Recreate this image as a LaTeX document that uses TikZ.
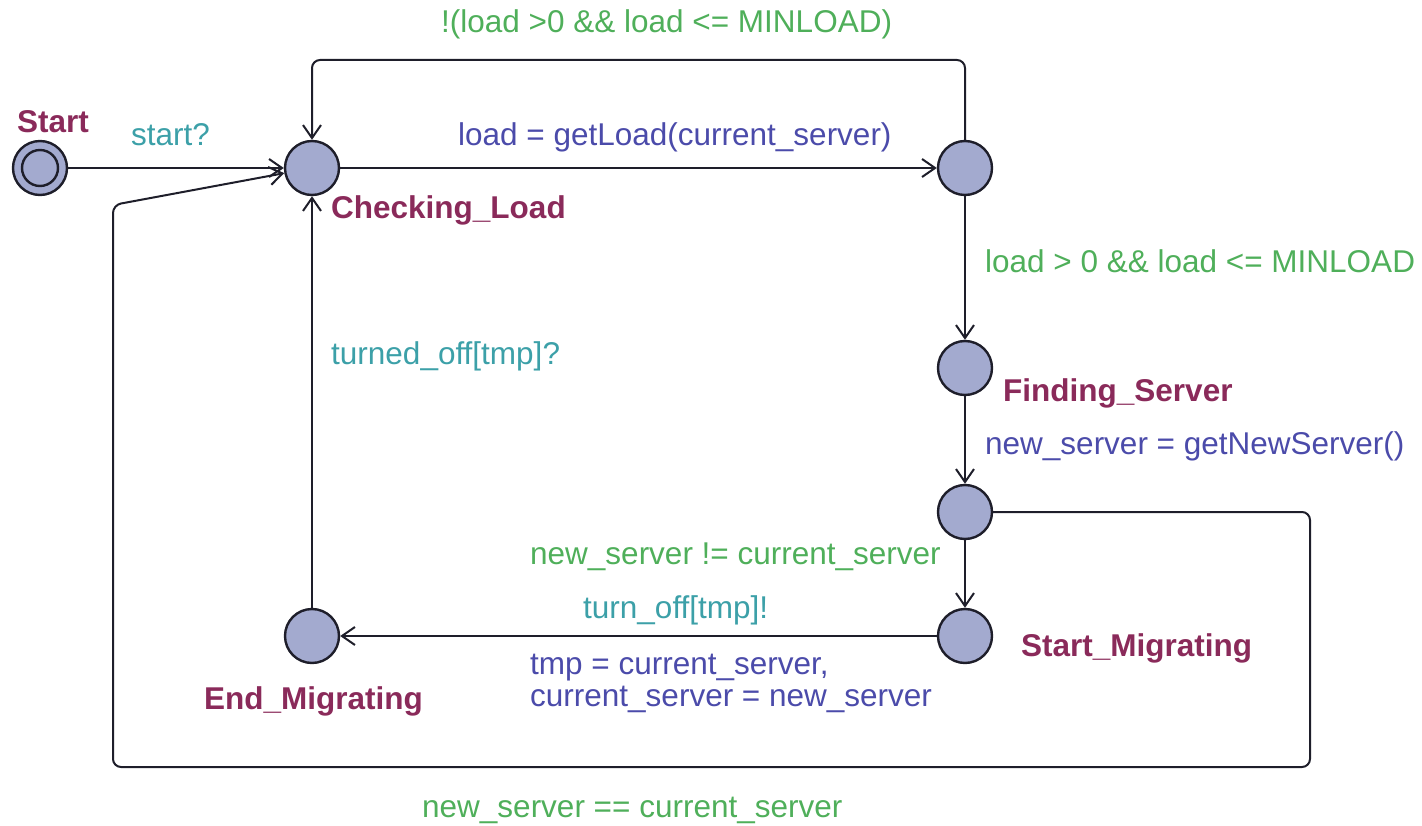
\documentclass[tikz,border=0pt]{standalone}
\usepackage{fontspec}
\setmainfont{Liberation Sans}
\usetikzlibrary{arrows.meta}
\definecolor{stfill}{HTML}{A3AACF}
\definecolor{stline}{HTML}{1E1E2A}
\definecolor{namecol}{HTML}{8A2A5A}
\definecolor{guardcol}{HTML}{4FAF5A}
\definecolor{synccol}{HTML}{3CA0A8}
\definecolor{assigncol}{HTML}{4B4BAA}
\tikzset{
  state/.style={circle, minimum size=54pt, inner sep=0pt, fill=stfill, draw=stline, line width=2.4pt},
  lbl/.style={anchor=base west, inner sep=0pt, font=\fontsize{31.5}{36}\selectfont},
  sname/.style={lbl, text=namecol, font=\fontsize{31.5}{36}\selectfont\bfseries},
  guard/.style={lbl, text=guardcol},
  sync/.style={lbl, text=synccol},
  assign/.style={lbl, text=assigncol},
  edge/.style={draw=stline, line width=2pt, -{Straight Barb[length=13pt,width=18pt,line width=2pt]}},
  thick edge/.style={edge, line width=2.8pt},
}
\begin{document}
\begin{tikzpicture}[x=1pt,y=-1pt]
\useasboundingbox (0,0) rectangle (1422,826);
% states
\node[state] (s) at (40,168) {};
\node[circle, minimum size=36pt, inner sep=0pt, draw=stline, line width=2.4pt] (sin) at (40,168) {};
\node[state] (cl) at (312,168) {};
\node[state] (n1) at (965,168) {};
\node[state] (fs) at (965,368) {};
\node[state] (m) at (965,512) {};
\node[state] (sm) at (965,636) {};
\node[state] (em) at (312,636) {};
% state names
\node[sname] (ls) at (17,133) {Start};
\node[sname] (lcl) at (331,219) {Checking\_Load};
\node[sname] (lfs) at (1003,401) {Finding\_Server};
\node[sname] (lsm) at (1021,656) {Start\_Migrating};
\node[sname] (lem) at (204,709) {End\_Migrating};
% edges
\draw[thick edge] (s) -- (cl);
\draw[edge] (cl) -- (n1);
\draw[edge, rounded corners=8pt] (n1.north) |- (312,60) -- (cl.north);
\draw[thick edge] (n1) -- (fs);
\draw[thick edge] (fs) -- (m);
\draw[thick edge] (m) -- (sm);
\draw[edge] (sm) -- (em);
\draw[thick edge] (em) -- (cl);
\coordinate (c1) at (1310,767);
\coordinate (c2) at (113,205);
\draw[edge, rounded corners=8pt] (m.east) -| (c1) -| (c2) -- (cl);
% edge labels
\node[sync] (t1) at (131,146) {start?};
\node[assign] (t2) at (458,146) {load = getLoad(current\_server)};
\node[guard] (t3) at (441,33) {!(load >0 \&\& load <= MINLOAD)};
\node[guard] (t4) at (985,273) {load > 0 \&\& load <= MINLOAD};
\node[sync] (t5) at (331,364) {turned\_off[tmp]?};
\node[assign] (t6) at (985,454) {new\_server = getNewServer()};
\node[guard] (t7) at (530,564) {new\_server != current\_server};
\node[sync] (t8) at (583,618) {turn\_off[tmp]!};
\node[assign] (t9) at (530,674) {tmp = current\_server,};
\node[assign] (t10) at (530,706) {current\_server = new\_server};
\node[guard] (t11) at (422,817) {new\_server == current\_server};
\end{tikzpicture}
\end{document}
